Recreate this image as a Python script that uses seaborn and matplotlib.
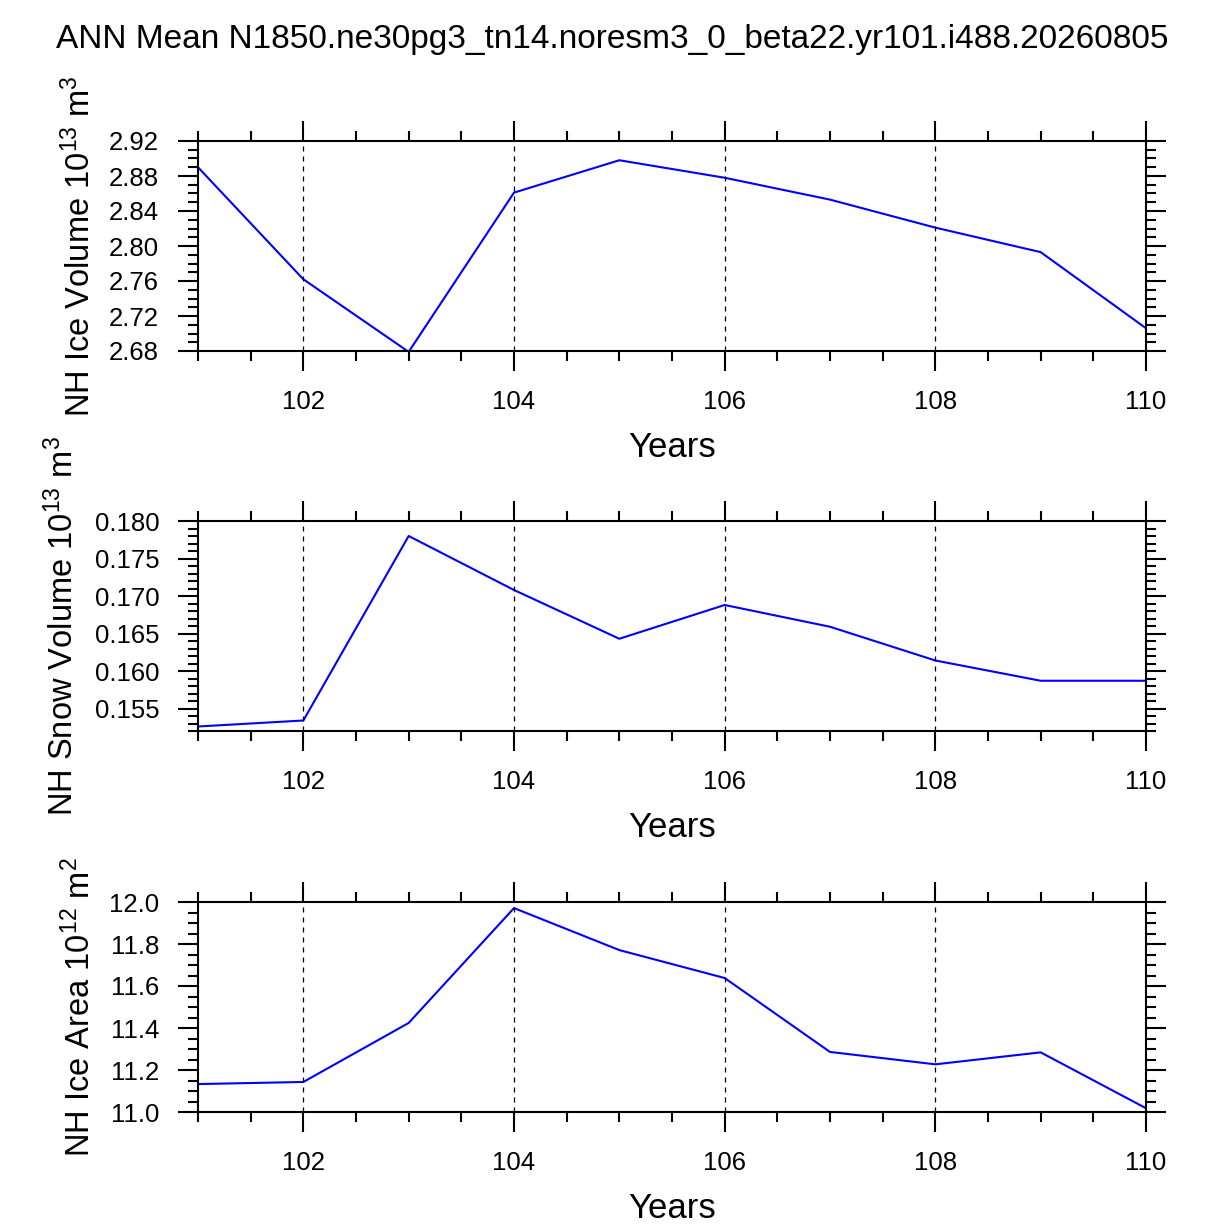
import numpy as np
import matplotlib
matplotlib.use('Agg')
import matplotlib.pyplot as plt
from matplotlib.ticker import MultipleLocator
import seaborn as sns

# Annual means
years = [101, 102, 103, 104, 105, 106, 107, 108, 109, 110]
ice_volume = [2.890, 2.762, 2.679, 2.861, 2.898, 2.878, 2.853, 2.821, 2.793, 2.706]
snow_volume = [0.1526, 0.1534, 0.1780, 0.1708, 0.1643, 0.1688, 0.1659, 0.1614, 0.1587, 0.1587]
ice_area = [11.133, 11.143, 11.424, 11.971, 11.771, 11.638, 11.286, 11.227, 11.284, 11.018]

title = 'ANN Mean N1850.ne30pg3_tn14.noresm3_0_beta22.yr101.i488.20260805'
ylabels = [r'NH Ice Volume 10$^{13}$ m$^{3}$',
           r'NH Snow Volume 10$^{13}$ m$^{3}$',
           r'NH Ice Area 10$^{12}$ m$^{2}$']
ylims = [(2.68, 2.92), (0.152, 0.180), (11.0, 12.0)]
ymajor = [0.04, 0.005, 0.2]
yminor = [0.01, 0.001, 0.05]
yfmt = ['%.2f', '%.3f', '%.1f']
# y label offset depends on width of the tick labels
ylabel_x = [-0.106, -0.124, -0.106]

sns.set_style('ticks')
plt.rcParams['font.family'] = ['Liberation Sans', 'DejaVu Sans']
plt.rcParams['mathtext.fontset'] = 'custom'
plt.rcParams['mathtext.rm'] = 'Liberation Sans'
plt.rcParams['mathtext.it'] = 'Liberation Sans'
for key in ['text.color', 'axes.labelcolor', 'xtick.color', 'ytick.color']:
    plt.rcParams[key] = 'black'

fig = plt.figure(figsize=(12.25, 12.25), dpi=100)

left, width, height = 198 / 1225, 948 / 1225, 210 / 1225
bottoms = [1 - 351 / 1225, 1 - 731 / 1225, 1 - 1112 / 1225]
series = [ice_volume, snow_volume, ice_area]

for i in range(3):
    ax = fig.add_axes([left, bottoms[i], width, height])
    sns.lineplot(x=years, y=series[i], ax=ax, color='blue', linewidth=1.5)
    ax.set_xlim(101, 110)
    ax.set_ylim(*ylims[i])
    ax.xaxis.set_major_locator(MultipleLocator(2))
    ax.xaxis.set_minor_locator(MultipleLocator(0.5))
    ax.yaxis.set_major_locator(MultipleLocator(ymajor[i]))
    ax.yaxis.set_minor_locator(MultipleLocator(yminor[i]))
    ax.yaxis.set_major_formatter(plt.FormatStrFormatter(yfmt[i]))
    for s in ax.spines.values():
        s.set_visible(True)
        s.set_linewidth(1.5)
        s.set_color('black')
    ax.tick_params(which='both', direction='out', top=True, right=True,
                   color='black', width=1.5)
    ax.tick_params(which='major', length=14.4, labelsize=18.5)
    ax.tick_params(which='minor', length=7.2)
    ax.tick_params(axis='x', which='major', pad=13.5)
    ax.tick_params(axis='y', which='major', pad=13.5)
    for x in range(102, 110, 2):
        ax.axvline(x, color='black', linestyle=(0, (4, 4)), linewidth=0.9)
    ax.set_xlabel('Years', fontsize=25)
    ax.xaxis.set_label_coords(0.5, -0.38)
    ax.set_ylabel(ylabels[i], fontsize=23.5)
    ax.yaxis.set_label_coords(ylabel_x[i], 0.5)

fig.text(0.5, 1 - 48 / 1225, title, ha='center', va='baseline', fontsize=24)

fig.savefig('out.png', dpi=100)
